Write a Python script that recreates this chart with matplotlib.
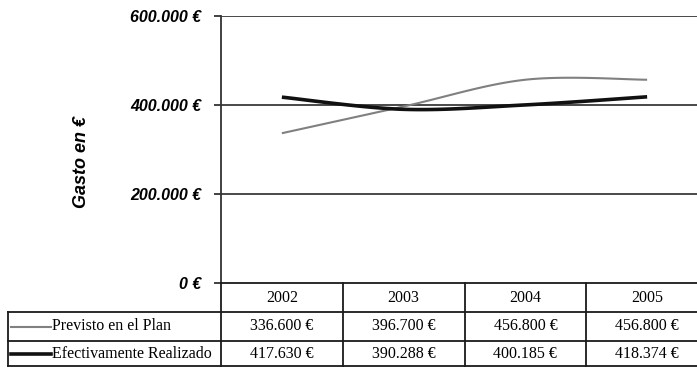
import matplotlib.pyplot as plt
from matplotlib.lines import Line2D
from matplotlib.transforms import blended_transform_factory
import numpy as np

years = ["2002", "2003", "2004", "2005"]
previsto = [336600, 396700, 456800, 456800]
realizado = [417630, 390288, 400185, 418374]
series_names = ["Previsto en el Plan", "Efectivamente Realizado"]
series_colors = ["#808080", "#111111"]
series_widths = [1.5, 2.6]
y_ticks = [0, 200000, 400000, 600000]
y_tick_labels = ["0 €", "200.000 €", "400.000 €", "600.000 €"]

W, H = 697, 368


def fx(px):
    return px / W


def fy(py):
    return 1 - py / H


def euro(v):
    return f"{v:,}".replace(",", ".") + " €"


def smooth(xs, ys, n=40):
    # Excel style smoothed line (bezier through the points)
    xs = np.asarray(xs, float)
    ys = np.asarray(ys, float)
    out_x, out_y = [], []
    last = len(xs) - 1
    for i in range(last):
        a, b = max(i - 1, 0), min(i + 2, last)
        c1 = (xs[i] + (xs[i + 1] - xs[a]) / 6, ys[i] + (ys[i + 1] - ys[a]) / 6)
        c2 = (xs[i + 1] - (xs[b] - xs[i]) / 6, ys[i + 1] - (ys[b] - ys[i]) / 6)
        t = np.linspace(0, 1, n)
        m = 1 - t
        out_x.extend(m**3 * xs[i] + 3 * m**2 * t * c1[0] + 3 * m * t**2 * c2[0] + t**3 * xs[i + 1])
        out_y.extend(m**3 * ys[i] + 3 * m**2 * t * c1[1] + 3 * m * t**2 * c2[1] + t**3 * ys[i + 1])
    return out_x, out_y


fig = plt.figure(figsize=(W / 100, H / 100), dpi=100)
ax = fig.add_axes([fx(221), fy(283), fx(708) - fx(221), fy(16) - fy(283)])

x = np.arange(len(years))
for vals, name, col, lw in zip([previsto, realizado], series_names, series_colors, series_widths):
    sx, sy = smooth(x, vals)
    ax.plot(sx, sy, color=col, lw=lw, solid_capstyle="butt", label=name, zorder=3)

ax.set_xlim(-0.5, len(years) - 0.5)
ax.set_ylim(0, 600000)
for t in y_ticks[1:]:
    ax.axhline(t, color="#3a3a3a", lw=1.3, zorder=1)

ax.set_xticks([])
ax.set_yticks(y_ticks, y_tick_labels)
ax.tick_params(axis="y", length=5, width=1.3, color="#333333", pad=9)
for lab in ax.get_yticklabels():
    lab.set_fontfamily("Liberation Sans")
    lab.set_fontweight("bold")
    lab.set_fontstyle("italic")
    lab.set_fontsize(11.5)
for s in ["top", "right", "bottom"]:
    ax.spines[s].set_visible(False)
ax.spines["left"].set_color("#333333")
ax.spines["left"].set_linewidth(1.3)

fig.text(fx(81), fy(162), "Gasto en €", rotation=90, ha="center", va="center",
         family="Liberation Sans", weight="bold", style="italic", fontsize=13)

# data table under the chart
tr = blended_transform_factory(ax.transData, fig.transFigure)
line_kw = dict(color="#1a1a1a", lw=1.3, clip_on=False)
row_edges = [283, 312, 341, 366]
row_mid = [(row_edges[i] + row_edges[i + 1]) / 2 for i in range(3)]

fig.add_artist(Line2D([fx(221), 1], [fy(283)] * 2, **line_kw))
for yy in row_edges[1:]:
    fig.add_artist(Line2D([fx(8), 1], [fy(yy)] * 2, **line_kw))
fig.add_artist(Line2D([fx(8)] * 2, [fy(312), fy(366)], **line_kw))
fig.add_artist(Line2D([fx(221)] * 2, [fy(283), fy(366)], **line_kw))
for b in x[:-1] + 0.5:
    fig.add_artist(Line2D([b, b], [fy(283), fy(366)], transform=tr, **line_kw))

cell_font = dict(family="Liberation Serif", fontsize=11.5, ha="center", va="center")
for i, yr in enumerate(years):
    fig.text(x[i], fy(row_mid[0]), yr, transform=tr, **cell_font)
    fig.text(x[i], fy(row_mid[1]), euro(previsto[i]), transform=tr, **cell_font)
    fig.text(x[i], fy(row_mid[2]), euro(realizado[i]), transform=tr, **cell_font)

for r, name, col, lw in zip(row_mid[1:], series_names, series_colors, series_widths):
    fig.add_artist(Line2D([fx(11), fx(51)], [fy(r)] * 2, color=col, lw=lw))
    fig.text(fx(52), fy(r), name, family="Liberation Serif", fontsize=11.5, ha="left", va="center")

fig.savefig("out.png", dpi=100)
